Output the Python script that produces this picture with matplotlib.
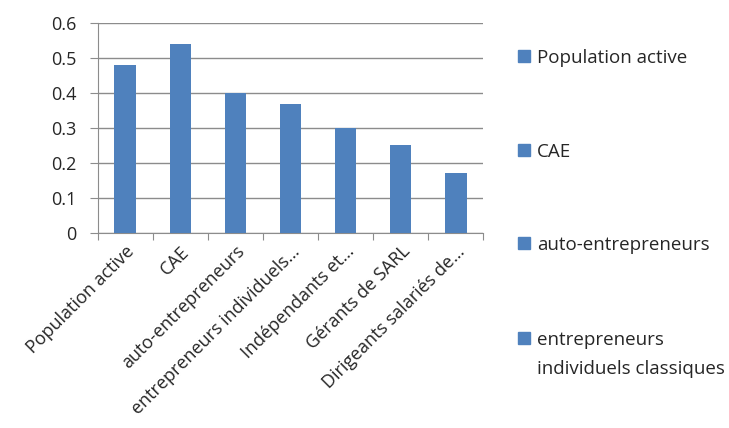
"""Bar chart: share by worker category."""

import matplotlib

matplotlib.use("Agg")
import matplotlib.pyplot as plt
from matplotlib.patches import Rectangle

categories = [
    "Population active",
    "CAE",
    "auto-entrepreneurs",
    "entrepreneurs individuels…",
    "Indépendants et…",
    "Gérants de SARL",
    "Dirigeants salariés de…",
]
values = [0.48, 0.54, 0.40, 0.37, 0.30, 0.25, 0.17]
legend_labels = [
    "Population active",
    "CAE",
    "auto-entrepreneurs",
    "entrepreneurs\nindividuels classiques",
]
y_ticks = [0, 0.1, 0.2, 0.3, 0.4, 0.5, 0.6]

bar_color = "#4F81BD"
grid_color = "#8C8C8C"
text_color = "#262626"
plt.rcParams["font.family"] = ["Open Sans", "DejaVu Sans"]

fig = plt.figure(figsize=(7.29, 4.28), dpi=100)
ax = fig.add_axes([0.134, 0.456, 0.529, 0.49])

x = list(range(len(categories)))
ax.bar(x, values, width=0.39, color=bar_color, zorder=3)

ax.set_xlim(-0.5, len(categories) - 0.5)
ax.set_ylim(0, 0.6)
ax.set_yticks(y_ticks)
ax.set_yticklabels([f"{v:g}" for v in y_ticks], fontsize=13, color=text_color)
ax.set_xticks([i - 0.5 for i in range(len(categories) + 1)])
ax.set_xticklabels([])
ax.set_xticks(x, minor=True)
ax.set_xticklabels(categories, minor=True, rotation=45, ha="right",
                   rotation_mode="anchor", fontsize=13, color=text_color)
ax.tick_params(axis="x", which="minor", length=0, pad=7)
ax.tick_params(axis="x", which="major", length=5, color=grid_color)
ax.tick_params(axis="y", length=6, color=grid_color, pad=9)

ax.grid(axis="y", color=grid_color, linewidth=1, zorder=0)
for side in ("top", "right"):
    ax.spines[side].set_visible(False)
for side in ("left", "bottom"):
    ax.spines[side].set_color(grid_color)

# legend drawn by hand: Excel spaces entries evenly down the right side
leg_x = 518 / 729
leg_y = [56, 150, 243, 338]
line_gap = 29
for label, ypx in zip(legend_labels, leg_y):
    fig.patches.append(Rectangle((leg_x, 1 - (ypx + 6) / 428), 12 / 729, 12 / 428,
                                 transform=fig.transFigure, color=bar_color))
    for k, line in enumerate(label.split("\n")):
        fig.text(leg_x + 19 / 729, 1 - (ypx + k * line_gap) / 428, line,
                 fontsize=13.5, va="center_baseline", color=text_color)

fig.savefig("out.png", dpi=100)
